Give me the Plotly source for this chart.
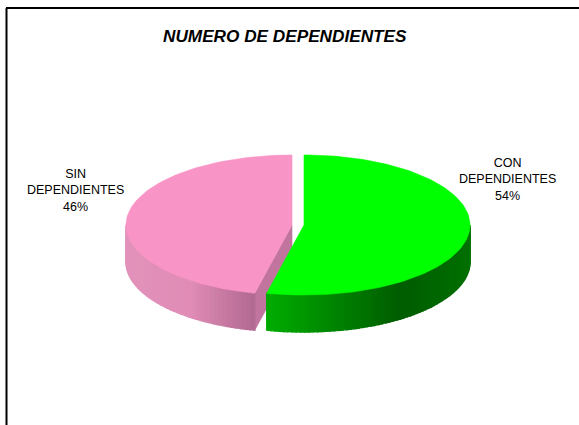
import math
import plotly.graph_objects as go

categories = ["CON DEPENDIENTES", "SIN DEPENDIENTES"]
shares = [53.6, 46.4]
chart_title = "NUMERO DE DEPENDIENTES"

W, H = 579, 425
RX, RY, DEPTH = 166, 70, 37
CENTERS = {0: (304, 225), 1: (292, 225)}
FONT = "Liberation Sans, Arial, sans-serif"


def lerp(a, b, t):
    t = max(0, min(1, t))
    return tuple(round(a[i] + (b[i] - a[i]) * t) for i in range(3))


def rgb(c):
    return f"rgb({c[0]},{c[1]},{c[2]})"


def pt(center, deg, drop=0):
    r = math.radians(deg)
    return center[0] + RX * math.sin(r), center[1] - RY * math.cos(r) + drop


def poly(fig, pts, color, lw=0.6):
    xs = [p[0] for p in pts] + [pts[0][0]]
    ys = [p[1] for p in pts] + [pts[0][1]]
    fig.add_trace(go.Scatter(x=xs, y=ys, mode="lines", fill="toself", fillcolor=color,
                             line=dict(color=color, width=lw), hoverinfo="skip", showlegend=False))


def side_color(idx, x):
    if idx == 0:
        if x < 400:
            return lerp((0, 172, 0), (0, 92, 0), (x - 267) / 133)
        return lerp((0, 92, 0), (0, 112, 0), (x - 400) / 69)
    if x > 190:
        return lerp((224, 140, 182), (178, 106, 146), (x - 190) / 62)
    return lerp((226, 146, 186), (224, 140, 182), (x - 126) / 64)


total = sum(shares)
boundary = shares[0] / total * 360
spans = {0: (0, boundary), 1: (boundary, 360)}
tops = {0: "rgb(0,255,0)", 1: "rgb(249,148,198)"}

fig = go.Figure()

# pink slice: cut face, rim, top
c = CENTERS[1]
a0, a1 = spans[1]
p = pt(c, a0)
poly(fig, [c, (c[0], c[1] + DEPTH), (p[0], p[1] + DEPTH), p], "rgb(192,116,158)")
n = 45
for i in range(n):
    s0 = a0 + (270 - a0) * i / n
    s1 = a0 + (270 - a0) * (i + 1) / n
    q0, q1 = pt(c, s0), pt(c, s1)
    poly(fig, [q0, q1, (q1[0], q1[1] + DEPTH), (q0[0], q0[1] + DEPTH)],
         rgb(side_color(1, (q0[0] + q1[0]) / 2)), lw=1.4)
poly(fig, [c] + [pt(c, a0 + (a1 - a0) * i / 120) for i in range(121)], tops[1])

# green slice: rim, top
c = CENTERS[0]
a0, a1 = spans[0]
n = 70
for i in range(n):
    s0 = 90 + (a1 - 90) * i / n
    s1 = 90 + (a1 - 90) * (i + 1) / n
    q0, q1 = pt(c, s0), pt(c, s1)
    poly(fig, [q0, q1, (q1[0], q1[1] + DEPTH), (q0[0], q0[1] + DEPTH)],
         rgb(side_color(0, (q0[0] + q1[0]) / 2)), lw=1.4)
poly(fig, [c] + [pt(c, a0 + (a1 - a0) * i / 120) for i in range(121)], tops[0])


def label(i):
    a, b = categories[i].split(" ")
    return f"{a}<br>{b}<br>{round(shares[i])}%"


fig.add_annotation(x=507.5, y=179, text=label(0), showarrow=False, xref="x", yref="y",
                   font=dict(family=FONT, size=12.5, color="black"), align="center")
fig.add_annotation(x=75, y=190.5, text=label(1), showarrow=False, xref="x", yref="y",
                   font=dict(family=FONT, size=12.5, color="black"), align="center")
fig.add_annotation(x=285, y=36, text=f"<b><i>{chart_title}</i></b>", showarrow=False, xref="x", yref="y",
                   font=dict(family=FONT, size=17.2, color="black"))

fig.add_shape(type="line", x0=6.5, x1=6.5, y0=8, y1=H, xref="x", yref="y", line=dict(color="black", width=2))
fig.add_shape(type="line", x0=6, x1=W, y0=8, y1=8, xref="x", yref="y", line=dict(color="black", width=2))

fig.update_layout(
    width=W, height=H, margin=dict(l=0, r=0, t=0, b=0), autosize=False,
    paper_bgcolor="white", plot_bgcolor="white", showlegend=False,
    xaxis=dict(range=[0, W], visible=False, fixedrange=True),
    yaxis=dict(range=[H, 0], visible=False, fixedrange=True),
)
fig.write_html("out.html", config={"displayModeBar": False},
               default_width=f"{W}px", default_height=f"{H}px",
               post_script="document.body.style.margin='0';document.body.style.overflow='hidden';")
